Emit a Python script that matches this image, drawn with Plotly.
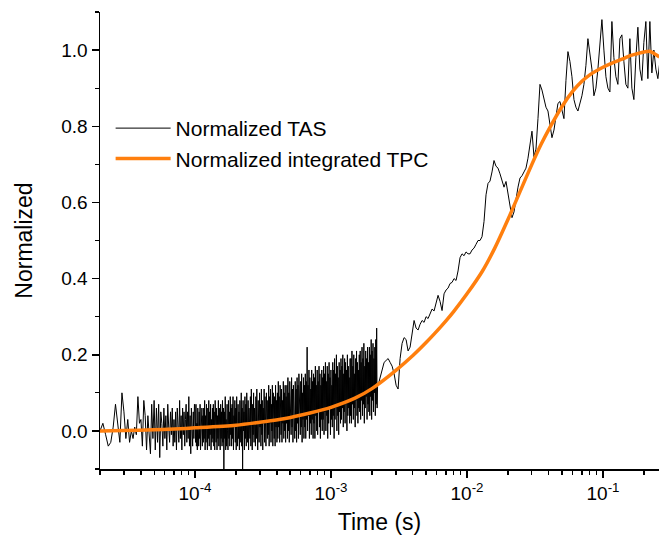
import numpy as np
import plotly.graph_objects as go

# ---------------- data ----------------
# Normalized TAS, segment 1: linear time sampling 2e-5 .. 9.9e-5 s
TAS1_T_START, TAS1_T_END = 2e-5, 9.9e-5
TAS1_VALUES = [
    0.00, 0.02, -0.01, -0.04, -0.03, 0.01, 0.07, 0.02, -0.03, 0.10,
    0.05, -0.02, 0.03, -0.03, 0.00, -0.02, 0.01, -0.01, 0.09, 0.02,
    0.03, -0.04, 0.08, 0.04, -0.05, 0.04, 0.00, -0.06, 0.07, -0.02,
    0.08, -0.05, 0.06, -0.03, 0.07, -0.07, 0.05, 0.02, -0.04, 0.06,
    -0.02, 0.04, -0.05, 0.07, 0.01, -0.03, 0.05, -0.01, 0.06, -0.04,
    0.03, -0.03, 0.05, -0.05, 0.06, 0.00, -0.03, 0.08, -0.02, 0.04,
    -0.05, 0.06, -0.01, 0.05, -0.04, 0.03, 0.07, -0.03, 0.05, -0.02,
    0.09, -0.04, 0.04, -0.06, 0.06, 0.01, -0.04, 0.05, -0.02, 0.07,
]
# segment 2: log time sampling 1e-4 .. 2.2e-3 s (dense, noisy)
TAS2_T_START, TAS2_T_END = 1e-4, 2.2e-3
TAS2_VALUES = [
    0.05, -0.03, 0.07, -0.04, 0.02, -0.05, 0.06, 0.01, -0.04, 0.05, -0.02, 0.07, -0.05, 0.03, -0.01, 0.06, -0.04, 0.04, -0.03, 0.06,
    -0.02, 0.08, -0.05, 0.04, -0.03, 0.07, 0.00, -0.05, 0.06, -0.02, 0.08, -0.04, 0.05, -0.01, 0.07, -0.05, 0.03, -0.03, 0.06, -0.02,
    0.07, -0.04, 0.05, -0.05, 0.08, 0.01, -0.03, 0.06, -0.05, 0.04, -0.02, 0.08, -0.04, 0.06, 0.00, -0.05, 0.07, -0.02, 0.05, -0.04,
    0.08, -0.03, 0.06, -0.10, 0.05, -0.02, 0.09, -0.05, 0.03, -0.04, 0.07, 0.00, -0.05, 0.08, -0.02, 0.05, -0.04, 0.09, -0.01, 0.06,
    -0.04, 0.07, -0.02, 0.09, -0.05, 0.04, 0.01, 0.08, -0.03, 0.06, -0.05, 0.09, 0.00, -0.04, 0.07, -0.02, 0.05, -0.05, 0.08, 0.02,
    -0.03, 0.10, -0.04, 0.06, -0.10, 0.08, 0.00, 0.05, -0.05, 0.09, -0.02, 0.07, -0.04, 0.10, 0.01, -0.03, 0.08, -0.05, 0.06, 0.03,
    -0.02, 0.09, -0.04, 0.11, 0.02, -0.05, 0.07, -0.01, 0.10, -0.03, 0.06, 0.01, -0.04, 0.09, -0.02, 0.11, 0.00, -0.05, 0.08, 0.03,
    -0.03, 0.10, 0.01, 0.07, -0.04, 0.11, -0.01, 0.08, -0.05, 0.06, 0.02, 0.11, -0.03, 0.09, 0.00, -0.04, 0.10, 0.03, -0.02, 0.08,
    -0.01, 0.12, -0.04, 0.09, 0.02, 0.11, -0.03, 0.07, 0.00, 0.12, -0.04, 0.10, 0.03, -0.02, 0.09, -0.04, 0.12, 0.01, 0.08, -0.03,
    0.10, -0.02, 0.13, 0.01, 0.09, -0.03, 0.12, 0.03, -0.01, 0.11, -0.03, 0.08, 0.02, 0.13, -0.02, 0.10, 0.00, 0.12, -0.03, 0.09,
    0.02, 0.12, -0.02, 0.14, 0.00, 0.10, -0.03, 0.13, 0.03, 0.09, -0.01, 0.14, 0.01, 0.11, -0.03, 0.12, 0.04, 0.08, -0.02, 0.13,
    0.00, 0.11, -0.03, 0.14, 0.02, 0.12, -0.02, 0.15, 0.04, 0.09, -0.01, 0.13, 0.01, 0.15, -0.03, 0.10, 0.03, 0.14, -0.02, 0.12,
    0.01, 0.15, -0.02, 0.13, 0.03, 0.22, 0.00, 0.12, 0.04, 0.16, -0.02, 0.14, 0.02, 0.11, -0.01, 0.16, 0.03, 0.13, -0.02, 0.15,
    0.02, 0.14, -0.02, 0.17, 0.04, 0.12, 0.00, 0.16, -0.01, 0.13, 0.05, 0.17, 0.01, 0.15, -0.02, 0.12, 0.03, 0.16, 0.00, 0.14,
    0.03, 0.17, -0.01, 0.15, 0.05, 0.18, 0.00, 0.13, 0.04, 0.17, -0.02, 0.15, 0.02, 0.18, 0.06, 0.14, -0.01, 0.16, 0.03, 0.12,
    0.01, 0.18, 0.04, 0.16, -0.02, 0.19, 0.03, 0.15, 0.06, 0.20, 0.00, 0.17, 0.04, 0.14, -0.01, 0.18, 0.05, 0.16, 0.02, 0.19,
    0.03, 0.17, 0.06, 0.20, 0.01, 0.15, 0.05, 0.19, 0.02, 0.18, 0.07, 0.16, 0.00, 0.20, 0.04, 0.17, 0.06, 0.14, 0.02, 0.19,
    0.04, 0.19, 0.02, 0.21, 0.07, 0.17, 0.03, 0.20, 0.06, 0.15, 0.01, 0.19, 0.08, 0.21, 0.04, 0.18, 0.02, 0.16, 0.06, 0.20,
    0.05, 0.21, 0.03, 0.18, 0.08, 0.22, 0.04, 0.19, 0.07, 0.23, 0.02, 0.17, 0.06, 0.21, 0.09, 0.19, 0.03, 0.22, 0.07, 0.18,
    0.05, 0.22, 0.04, 0.20, 0.09, 0.24, 0.03, 0.21, 0.08, 0.23, 0.05, 0.19, 0.10, 0.22, 0.04, 0.24, 0.07, 0.27, 0.06, 0.12,
]
# segment 3: log time sampling 2.22e-3 .. 0.262 s
TAS3_T_START, TAS3_T_END = 2.22e-3, 0.262
TAS3_VALUES = [
    0.12, 0.14, 0.165, 0.18, 0.185, 0.19, 0.18, 0.17, 0.15, 0.12,
    0.11, 0.19, 0.23, 0.245, 0.24, 0.21, 0.22, 0.26, 0.29, 0.27,
    0.265, 0.28, 0.29, 0.285, 0.30, 0.295, 0.31, 0.32, 0.315, 0.34,
    0.356, 0.34, 0.316, 0.36, 0.37, 0.375, 0.387, 0.39, 0.40, 0.395,
    0.42, 0.455, 0.465, 0.46, 0.47, 0.465, 0.465, 0.475, 0.48, 0.49,
    0.50, 0.50, 0.51, 0.55, 0.62, 0.65, 0.656, 0.68, 0.71, 0.695,
    0.69, 0.675, 0.66, 0.64, 0.655, 0.62, 0.585, 0.56, 0.575, 0.61,
    0.64, 0.664, 0.67, 0.68, 0.69, 0.716, 0.75, 0.787, 0.72, 0.74,
    0.82, 0.91, 0.895, 0.87, 0.85, 0.84, 0.81, 0.77, 0.79, 0.83,
    0.86, 0.865, 0.84, 0.82, 0.92, 0.996, 0.97, 0.93, 0.87, 0.85,
    0.84, 0.86, 0.88, 0.91, 0.96, 1.03, 0.99, 0.95, 0.88, 0.90,
    0.95, 1.02, 1.08, 1.00, 0.93, 0.90, 0.89, 1.075, 0.98, 0.93,
    0.91, 1.03, 1.04, 0.97, 0.91, 0.90, 1.03, 0.90, 0.87, 0.98,
    1.06, 0.95, 0.92, 1.02, 1.075, 0.925, 1.075, 0.94, 1.00, 0.95,
    0.925, 0.97,
]

# Normalized integrated TPC (smooth)
TPC_T = [2e-5, 3e-5, 5e-5, 7e-5, 1e-4, 2e-4, 3e-4, 4.5e-4, 7e-4, 1e-3,
         1.5e-3, 2e-3, 3e-3, 4e-3, 5e-3, 6e-3, 7e-3, 8e-3,
         1e-2, 1.3e-2, 1.6e-2, 2e-2, 2.5e-2, 3e-2, 3.5e-2, 4e-2, 5e-2, 6e-2, 7e-2,
         8e-2, 1e-1, 1.2e-1, 1.4e-1, 1.6e-1, 1.8e-1, 2e-1, 2.2e-1, 2.4e-1, 2.6e-1]
TPC_V = [0.000, 0.001, 0.003, 0.005, 0.008, 0.015, 0.023, 0.032, 0.047, 0.062,
         0.086, 0.111, 0.159, 0.198, 0.232, 0.262, 0.289, 0.314,
         0.360, 0.420, 0.480, 0.555, 0.635, 0.700, 0.752, 0.792, 0.852, 0.892, 0.918,
         0.935, 0.955, 0.968, 0.977, 0.986, 0.991, 0.995, 0.997, 0.990, 0.982]

X_TICK_VALS = [1e-4, 1e-3, 1e-2, 1e-1]
X_TICK_TEXT = ["10<sup>-4</sup>", "10<sup>-3</sup>", "10<sup>-2</sup>", "10<sup>-1</sup>"]
Y_TICK_VALS = [0.0, 0.2, 0.4, 0.6, 0.8, 1.0]
Y_TICK_TEXT = ["0.0", "0.2", "0.4", "0.6", "0.8", "1.0"]
Y_MINOR_VALS = [-0.1, 0.1, 0.3, 0.5, 0.7, 0.9, 1.1]

# ---------------- build ----------------
t1 = np.linspace(TAS1_T_START, TAS1_T_END, len(TAS1_VALUES))
t2 = np.geomspace(TAS2_T_START, TAS2_T_END, len(TAS2_VALUES))
t3 = np.geomspace(TAS3_T_START, TAS3_T_END, len(TAS3_VALUES))
tas_t = np.concatenate([t1, t2, t3])
tas_v = np.concatenate([TAS1_VALUES, TAS2_VALUES, TAS3_VALUES])

FONT = "Liberation Sans, Arial, sans-serif"
XRANGE = [np.log10(2.0e-5), -0.588]
YRANGE = [-0.1, 1.1]

fig = go.Figure()
fig.add_trace(go.Scatter(x=tas_t, y=tas_v, mode="lines", name="Normalized TAS",
                         line=dict(color="black", width=1)))
fig.add_trace(go.Scatter(x=TPC_T, y=TPC_V, mode="lines", name="Normalized integrated TPC",
                         line=dict(color="#FF7F0E", width=3.5, shape="spline", smoothing=0.8)))

fig.update_layout(
    width=659, height=535,
    margin=dict(l=100, r=0, t=12, b=66),
    paper_bgcolor="white", plot_bgcolor="white",
    font=dict(family=FONT, color="black", size=19),
    showlegend=True,
    legend=dict(x=0.019, y=0.79, xanchor="left", yanchor="top",
                bgcolor="rgba(0,0,0,0)", font=dict(size=21, family=FONT),
                itemwidth=55, tracegroupgap=0),
    xaxis=dict(type="log", range=XRANGE, showgrid=False, zeroline=False,
               showline=True, linecolor="black", linewidth=1.5, mirror=False,
               ticks="outside", ticklen=7, tickwidth=1.5, tickcolor="black",
               tickvals=X_TICK_VALS, ticktext=X_TICK_TEXT,
               tickfont=dict(size=19),
               minor=dict(ticks="outside", ticklen=4, tickwidth=1.2, tickcolor="black",
                          dtick="D1", showgrid=False),
               title=dict(text="Time (s)", font=dict(size=23), standoff=11)),
    xaxis2=dict(type="log", range=XRANGE, overlaying="x", side="top", showgrid=False,
                zeroline=False, showline=True, linecolor="black", linewidth=1.5,
                ticks="inside", ticklen=7, tickwidth=1.5, tickcolor="black",
                tickvals=X_TICK_VALS, showticklabels=False,
                minor=dict(ticks="inside", ticklen=4, tickwidth=1.2, tickcolor="black",
                           dtick="D1", showgrid=False)),
    yaxis=dict(range=YRANGE, showgrid=False, zeroline=False,
               showline=True, linecolor="black", linewidth=1.5, mirror=False,
               ticks="outside", ticklen=7, tickwidth=1.5, tickcolor="black",
               tickvals=Y_TICK_VALS, ticktext=Y_TICK_TEXT, tickfont=dict(size=19),
               minor=dict(ticks="outside", ticklen=4, tickwidth=1.2, tickcolor="black",
                          tickvals=Y_MINOR_VALS, showgrid=False),
               title=dict(text="Normalized", font=dict(size=23), standoff=22)),
    yaxis2=dict(range=YRANGE, overlaying="y", side="right", showgrid=False,
                zeroline=False, showline=False,
                ticks="inside", ticklen=7, tickwidth=1.5, tickcolor="black",
                tickvals=Y_TICK_VALS, showticklabels=False,
                minor=dict(ticks="inside", ticklen=4, tickwidth=1.2, tickcolor="black",
                           tickvals=Y_MINOR_VALS, showgrid=False)),
)

fig.write_html("out.html", config={"displayModeBar": False, "staticPlot": True},
               post_script="document.body.style.margin='0';document.body.style.overflow='hidden';")
